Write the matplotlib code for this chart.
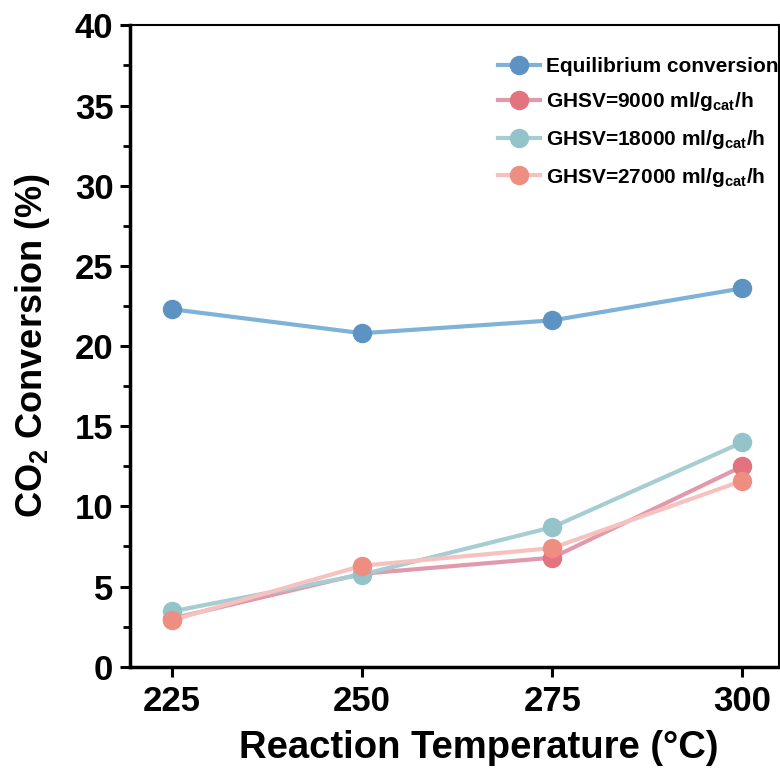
import matplotlib
matplotlib.use("Agg")
import matplotlib.pyplot as plt
from matplotlib.ticker import MultipleLocator

plt.rcParams['font.family'] = ['Liberation Sans', 'DejaVu Sans']
plt.rcParams['mathtext.fontset'] = 'custom'
plt.rcParams['mathtext.rm'] = 'Liberation Sans:bold'
plt.rcParams['mathtext.bf'] = 'Liberation Sans:bold'

temperatures = [225, 250, 275, 300]
equilibrium = [22.3, 20.8, 21.6, 23.6]
ghsv_9000 = [3.0, 5.8, 6.8, 12.5]
ghsv_18000 = [3.45, 5.75, 8.7, 14.0]
ghsv_27000 = [2.9, 6.3, 7.4, 11.6]

labels = ["Equilibrium conversion",
          r"GHSV=9000 ml/g$_{\rm cat}$/h",
          r"GHSV=18000 ml/g$_{\rm cat}$/h",
          r"GHSV=27000 ml/g$_{\rm cat}$/h"]
series = [equilibrium, ghsv_9000, ghsv_18000, ghsv_27000]
line_colors = ["#7eb2d6", "#e09aab", "#a6cdd2", "#f5c2bf"]
marker_colors = ["#5d93c2", "#e2737f", "#94c4ca", "#ee8e80"]

fig = plt.figure(figsize=(7.8, 7.69), dpi=100)
ax = fig.add_axes([0.1667, 0.133, 0.832, 0.834])

for vals, lab, lc, mc in zip(series, labels, line_colors, marker_colors):
    ax.plot(temperatures, vals, '-', color=lc, lw=3.0, marker='o', ms=13,
            markerfacecolor=mc, markeredgecolor=mc, label=lab)

ax.set_xlim(219.5, 304.8)
ax.set_ylim(0, 40)
ax.set_xticks(temperatures)
ax.yaxis.set_major_locator(MultipleLocator(5))
ax.yaxis.set_minor_locator(MultipleLocator(2.5))

for s in ['left', 'bottom']:
    ax.spines[s].set_linewidth(2.5)
for s in ['top', 'right']:
    ax.spines[s].set_linewidth(1.5)

ax.tick_params(axis='both', which='major', direction='out', length=7, width=2.2,
               labelsize=25, pad=5)
ax.tick_params(axis='x', which='major', pad=6)
ax.tick_params(axis='y', which='minor', direction='out', length=5, width=2.0)
for t in ax.get_xticklabels() + ax.get_yticklabels():
    t.set_fontweight('bold')

ax.set_xlabel("Reaction Temperature (°C)", fontsize=27.5, fontweight='bold')
ax.xaxis.set_label_coords(0.538, -0.099)
ax.set_ylabel(r"CO$_2$ Conversion (%)", fontsize=26, fontweight='bold')
ax.yaxis.set_label_coords(-0.12, 0.5)

leg = ax.legend(loc='upper right', frameon=False, prop={'weight': 'bold', 'size': 15},
                handlelength=2.0, handletextpad=0.3, labelspacing=0.7,
                borderaxespad=0.0, bbox_to_anchor=(1.012, 0.964))

fig.savefig("out.png", dpi=100)
